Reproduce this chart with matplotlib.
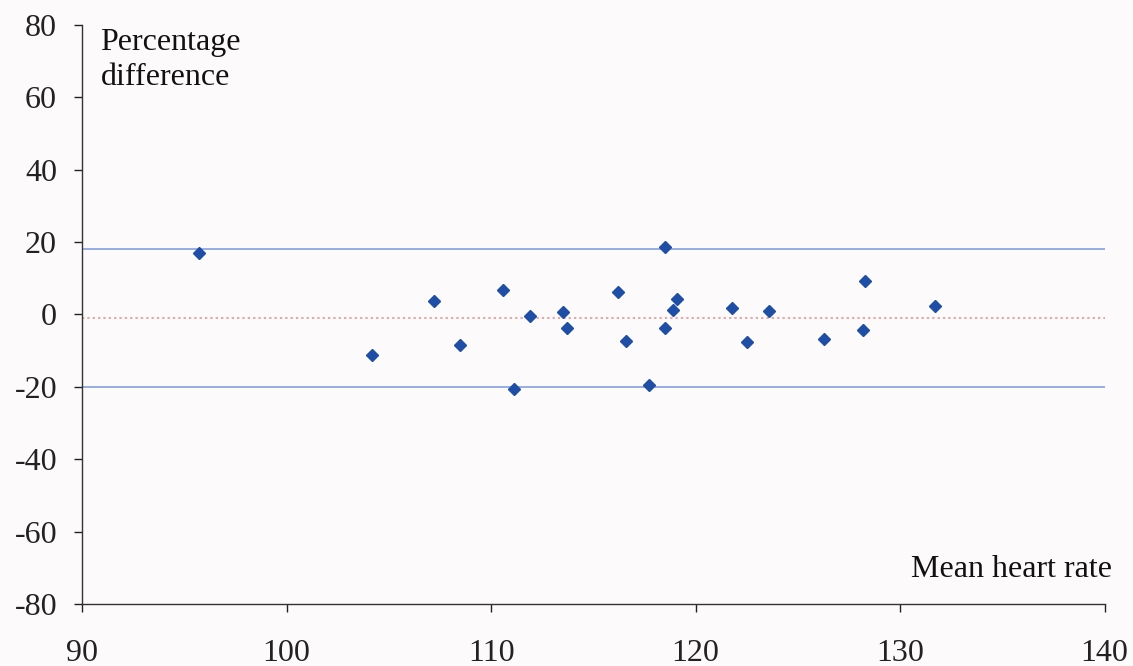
import numpy as np
import matplotlib.pyplot as plt

# ----- DANE -----
mean_hr = [95.7, 104.2, 107.2, 108.5, 110.6, 111.1, 111.9, 113.5, 113.7,
           116.2, 116.6, 117.7, 118.5, 118.5, 118.9, 119.1, 121.8, 122.5,
           123.6, 126.3, 128.2, 128.3, 131.7]
pct_diff = [17.0, -11.1, 3.8, -8.3, 6.7, -20.7, -0.4, 0.8, -3.8,
            6.1, -7.3, -19.5, 18.6, -3.8, 1.3, 4.4, 1.7, -7.6,
            1.1, -6.9, -4.2, 9.2, 2.3]

mean_diff = -1.0
upper_loa = 18.0
lower_loa = -20.0

x_ticks = [90, 100, 110, 120, 130, 140]
y_ticks = [-80, -60, -40, -20, 0, 20, 40, 60, 80]

# ----- WYKRES -----
plt.rcParams['font.family'] = ['Liberation Serif', 'DejaVu Serif']
plt.rcParams['axes.unicode_minus'] = False

fig = plt.figure(figsize=(11.33, 6.66), dpi=100, facecolor='#fcfafa')
ax = fig.add_axes([0.0724, 0.0931, 0.9026, 0.8694])
ax.set_facecolor('#fcfafa')

ax.axhline(upper_loa, color='#7b98dc', lw=1.1)
ax.axhline(lower_loa, color='#7b98dc', lw=1.1)
ax.axhline(mean_diff, color='#e58c8c', lw=1.1, ls=(0, (1.5, 2)))

ax.plot(mean_hr, pct_diff, 'D', color='#1f4ea6', markersize=6.5, zorder=3)

ax.set_xlim(90, 140)
ax.set_ylim(-80, 80)
ax.set_xticks(x_ticks)
ax.set_yticks(y_ticks)

for s in ['top', 'right']:
    ax.spines[s].set_visible(False)
for s in ['left', 'bottom']:
    ax.spines[s].set_color('#333333')
    ax.spines[s].set_linewidth(1.0)

ax.tick_params(axis='y', direction='out', length=6, width=1, pad=12,
               labelsize=23, colors='#222222')
ax.tick_params(axis='x', direction='out', length=6, width=1, pad=19,
               labelsize=23, colors='#222222')

ax.text(0.018, 0.995, 'Percentage\ndifference', transform=ax.transAxes,
        fontsize=23, va='top', ha='left', linespacing=1.3, color='#111111')
ax.text(1.007, 0.035, 'Mean heart rate', transform=ax.transAxes,
        fontsize=23, va='bottom', ha='right', color='#111111')

fig.savefig('out.png', dpi=100, facecolor=fig.get_facecolor())
